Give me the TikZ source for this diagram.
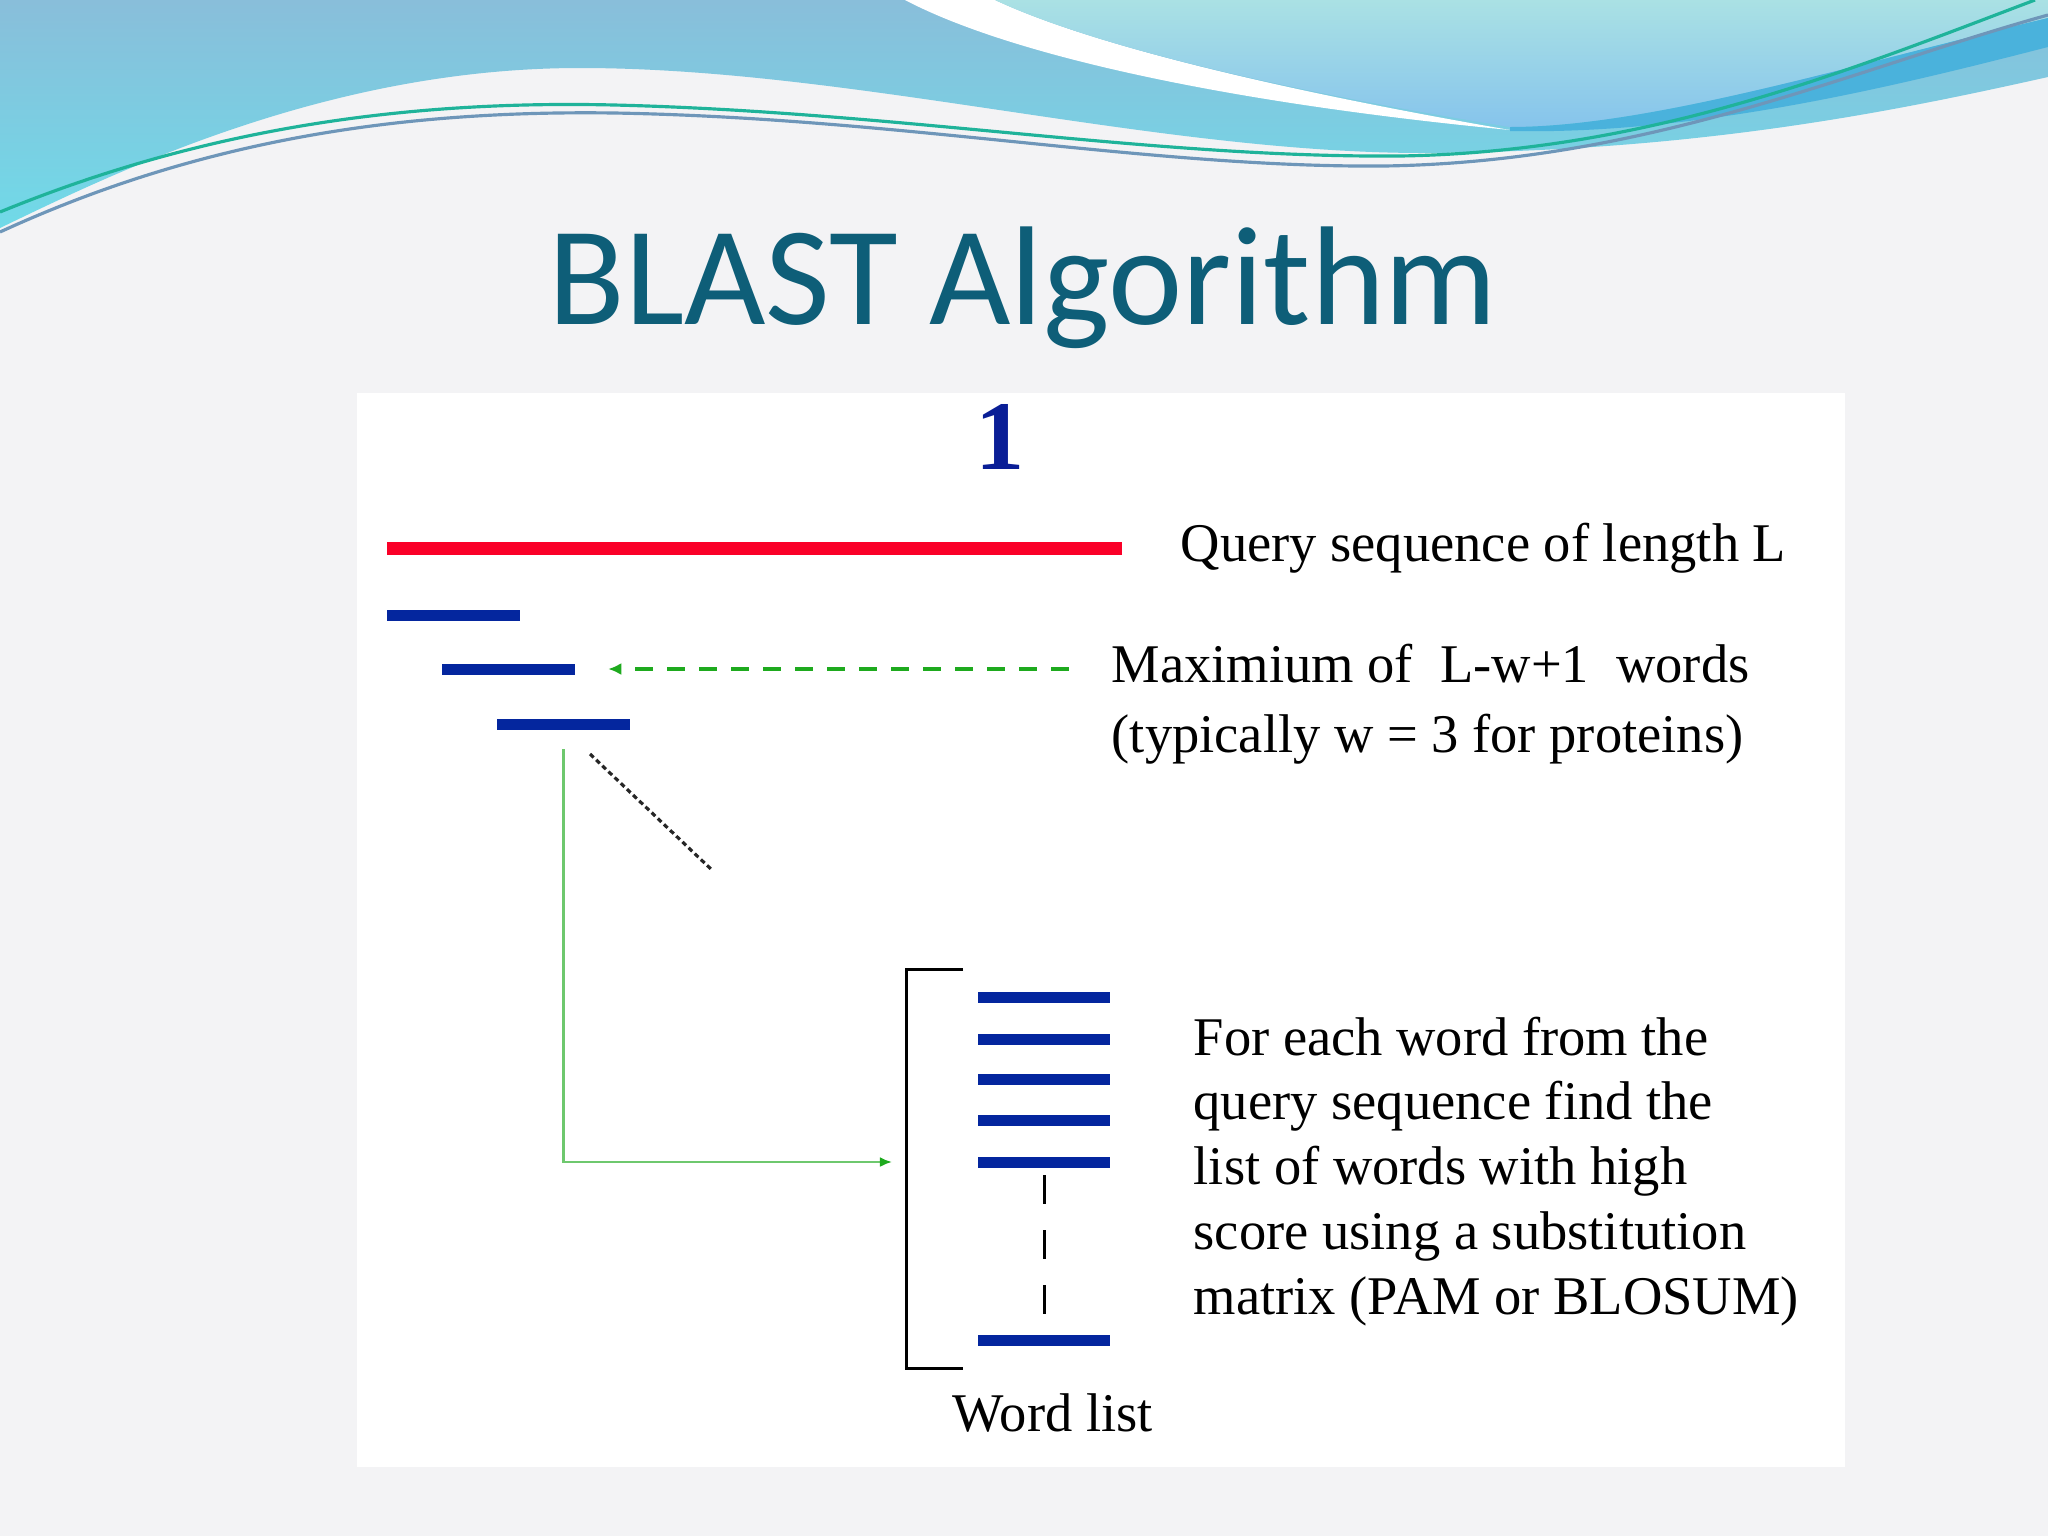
\documentclass[tikz,border=0pt]{standalone}
\usepackage{fontspec}
\setmainfont{Liberation Serif}
\newfontfamily\titlefont{Carlito}
\usetikzlibrary{arrows.meta, positioning}

\definecolor{slidebg}{RGB}{243,243,245}
\definecolor{waveblue}{RGB}{137,190,218}
\definecolor{wavecyan}{RGB}{112,218,232}
\definecolor{aquatop}{RGB}{170,225,228}
\definecolor{aquabot}{RGB}{134,196,236}
\definecolor{bandblue}{RGB}{74,178,220}
\definecolor{titleteal}{RGB}{14,94,120}
\definecolor{queryred}{RGB}{250,0,40}
\definecolor{wordblue}{RGB}{4,38,158}
\definecolor{numblue}{RGB}{10,30,150}
\definecolor{dashgreen}{RGB}{30,170,30}
\definecolor{feedgreen}{RGB}{110,200,110}

\tikzset{
  seqbar/.style = {fill=queryred, inner sep=0, minimum width=7.35cm, minimum height=0.13cm},
  wordbar/.style = {fill=wordblue, inner sep=0, minimum width=1.32cm, minimum height=0.11cm},
  note/.style = {inner sep=0, anchor=base west, align=left, font=\fontsize{15.5}{18.5}\selectfont},
  dasharrow/.style = {dashgreen, line width=1.1pt, dash pattern=on 0.18cm off 0.14cm,
    -{Latex[length=0.13cm, width=0.12cm]}},
  feedline/.style = {feedgreen, line width=0.7pt,
    -{Latex[length=0.12cm, width=0.1cm, color=dashgreen]}}
}

\begin{document}
\begin{tikzpicture}[x=0.01cm, y=-0.01cm]

    \useasboundingbox (0,0) rectangle (2048,1536);

    % Slide background and waves
    \fill[slidebg] (0,0) rectangle (2048,1536);
    \shade[top color=waveblue, bottom color=wavecyan]
      (0,0) -- (0,228) .. controls (120,170) and (330,68) .. (580,68)
      .. controls (850,68) and (1150,152) .. (1420,153)
      .. controls (1700,152) and (1900,110) .. (2048,77) -- (2048,0) -- cycle;
    \fill[white] (905,0) .. controls (1000,50) and (1200,100) .. (1510,130)
      .. controls (1250,85) and (1080,40) .. (995,0) -- cycle;
    \shade[top color=aquatop, bottom color=aquabot]
      (995,0) .. controls (1080,40) and (1250,85) .. (1510,127)
      .. controls (1650,127) and (1850,65) .. (2048,18) -- (2048,0) -- cycle;
    \fill[bandblue] (1510,127) .. controls (1650,127) and (1850,65) .. (2048,18)
      -- (2048,47) .. controls (1900,85) and (1700,135) .. (1510,131) -- cycle;
    \draw[color={rgb,255:red,31;green,179;blue,154}, line width=0.9pt]
      (0,212) .. controls (200,130) and (400,100) .. (614,105)
      .. controls (900,112) and (1150,158) .. (1400,156)
      .. controls (1650,152) and (1850,70) .. (2035,0);
    \draw[color={rgb,255:red,110;green,150;blue,185}, line width=0.9pt]
      (0,232) .. controls (200,140) and (400,110) .. (614,113)
      .. controls (900,118) and (1150,168) .. (1384,166)
      .. controls (1650,162) and (1850,70) .. (2048,15);

    % Title and panel
    \node[anchor=base, inner sep=0, text=titleteal, font=\titlefont\fontsize{40}{48}\selectfont]
      (title) at (1023,324) {BLAST Algorithm};
    \fill[white] (357,393) rectangle (1845,1467);
    \node[anchor=base, inner sep=0, text=numblue, font=\bfseries\fontsize{28}{32}\selectfont]
      (stepnum) at (1000,469) {1};

    % Query and its words
    \node[seqbar] (query) at (754.5,548) {};
    \node[wordbar] (wordA) at (453.5,615.5) {};
    \node[wordbar] (wordB) at (508.5,669) {};
    \node[wordbar] (wordC) at (563.5,724) {};
    \node[note] (querytext) at (1180,561) {Query sequence of length L};
    % base of a two-line node is its last line
    \node[note, font=\fontsize{15.5}{19.9}\selectfont] (maxtext) at (1111,752)
      {Maximium of\ \ L-w+1\ \ words\\(typically w = 3 for proteins)};
    \draw[dasharrow, shorten <=0.42cm, shorten >=0.33cm] (wordB -| maxtext.west) -- (wordB);
    \coordinate (fanA) at (590,754);
    \coordinate (fanB) at (713,871);
    \draw[line width=0.9pt, black!85, dash pattern=on 0.05cm off 0.035cm] (fanA) -- (fanB);

    % Word list
    \foreach \y [count=\i] in {997,1039,1079,1120,1162}
      \node[wordbar] (list\i) at (1044,\y) {};
    \node[wordbar] (listN) at (1044,1340) {};
    \draw[line width=0.85pt, dash pattern=on 0.29cm off 0.26cm, shorten <=0.07cm, shorten >=0.2cm]
      (list5.south) -- (listN.north);
    \draw[line width=0.85pt] (963,969) -- (906,969) -- (906,1368) -- (963,1368);
    \coordinate (listin) at (906,1162);
    \draw[feedline, shorten <=0.19cm, shorten >=0.14cm] (wordC.south) |- (listin);
    \node[note] (listname) at (952,1431) {Word list};
    \node[note, font=\fontsize{15.5}{18.4}\selectfont] (fortext) at (1193,1314)
      {For each word from the\\query sequence find the\\list of words with high\\score using a substitution\\matrix (PAM or BLOSUM)};

\end{tikzpicture}
\end{document}
